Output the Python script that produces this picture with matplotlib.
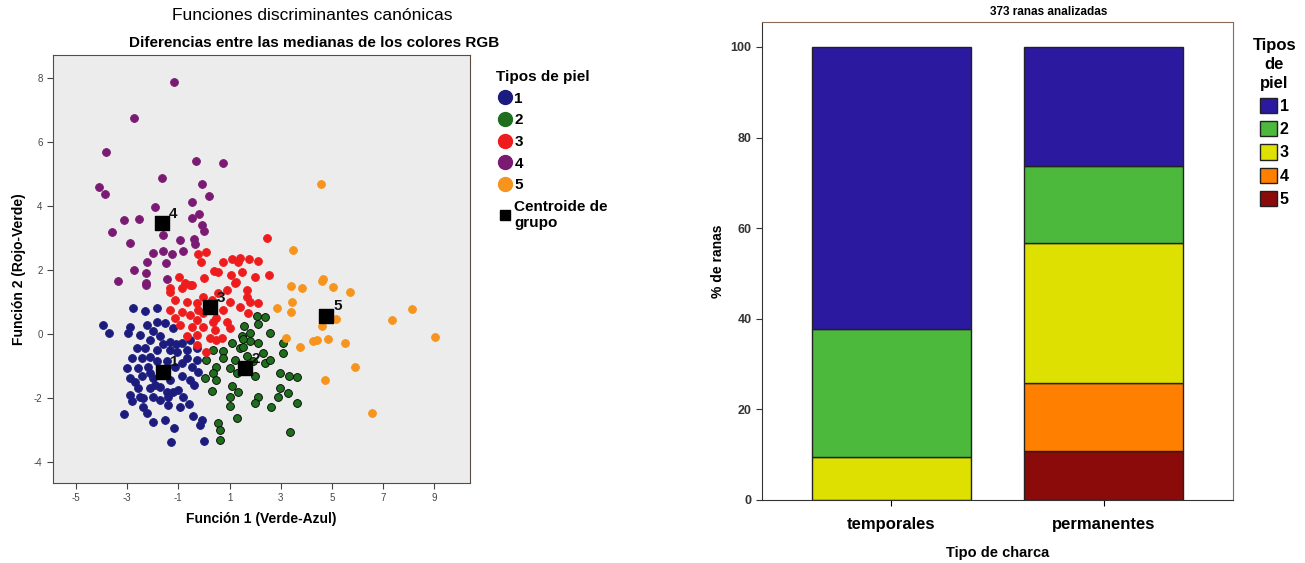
import numpy as np
import matplotlib
matplotlib.use('Agg')
from matplotlib import pyplot as plt
from matplotlib.lines import Line2D
from matplotlib.patches import Patch

plt.rcParams['font.family'] = ['Liberation Sans', 'DejaVu Sans']
plt.rcParams['axes.unicode_minus'] = False

# Puntuaciones discriminantes (Funcion 1, Funcion 2) por tipo de piel
piel1 = [(-3.96, 0.27), (-3.70, 0.04), (-2.79, 0.82), (-2.30, 0.72), (-1.85, 0.82), (-2.89, 0.23),
         (-2.96, 0.04), (-2.24, 0.28), (-1.85, 0.38), (-1.52, 0.33), (-1.20, 0.18), (-2.50, -0.03),
         (-2.11, -0.19), (-1.72, -0.08), (-1.33, -0.24), (-0.87, -0.29), (-0.55, -0.19), (-2.30, -0.45),
         (-1.85, -0.50), (-1.07, -0.55), (-0.68, -0.50), (-0.29, -0.45), (-2.83, -0.76), (-2.43, -0.76),
         (-2.11, -0.71), (-3.02, -1.07), (-2.57, -1.07), (-2.18, -1.02), (-0.87, -0.92), (-0.48, -1.02),
         (-0.22, -1.18), (-2.89, -1.38), (-2.43, -1.33), (-1.98, -1.38), (-1.33, -1.44), (-0.87, -1.33),
         (-0.55, -1.44), (-2.57, -1.70), (-2.11, -1.70), (-1.72, -1.65), (-1.00, -1.75), (-2.89, -1.91),
         (-2.50, -1.96), (-1.98, -1.96), (-1.39, -1.96), (-0.81, -1.96), (-2.83, -2.11), (-2.37, -2.27),
         (-1.39, -2.22), (-0.94, -2.27), (-3.13, -2.51), (-2.24, -2.48), (-1.98, -2.74), (-1.52, -2.69),
         (-0.42, -2.58), (-0.09, -2.69), (-0.16, -2.84), (-1.17, -2.95), (-1.30, -3.38), (0.00, -3.34),
         (-1.85, -0.84), (-1.46, -0.84), (-1.13, -1.02), (-2.11, -1.23), (-0.68, -0.76), (-0.29, -0.81),
         (-1.46, -1.80), (-1.72, -2.06), (-2.63, -0.45), (-1.33, -0.50), (-1.60, -0.30), (-1.90, -1.60),
         (-1.20, -1.80), (-2.70, -1.50), (-0.60, -2.20), (-1.10, -0.30), (-2.00, 0.10), (-0.40, -1.60),
         (-1.50, -1.20), (-2.40, -2.00)]
piel2 = [(2.06, 0.56), (2.38, 0.53), (1.58, 0.25), (2.58, 0.04), (3.10, -0.29), (3.10, -0.60),
         (1.47, -0.06), (1.80, -0.22), (2.12, -0.27), (1.08, -0.27), (0.75, -0.53), (0.36, -0.51),
         (1.41, -0.45), (2.32, -0.60), (2.38, -0.92), (0.10, -0.81), (0.49, -1.02), (1.02, -1.07),
         (0.04, -1.38), (1.99, -1.33), (2.97, -1.23), (3.33, -1.31), (3.64, -1.35), (1.08, -1.63),
         (0.30, -1.77), (1.34, -1.80), (2.97, -1.70), (3.29, -1.85), (1.02, -1.96), (2.12, -1.98),
         (1.99, -2.17), (2.64, -2.27), (3.62, -2.17), (1.02, -2.24), (1.28, -2.63), (0.56, -2.79),
         (0.63, -3.00), (0.63, -3.31), (3.36, -3.08), (1.67, -0.69), (1.93, -0.84), (0.75, -0.76),
         (1.21, -0.81), (1.54, -0.40), (1.80, 0.04), (1.54, -0.17), (2.12, 0.32), (0.36, -1.23),
         (0.49, -1.44), (2.58, -0.81), (2.90, -1.96), (1.28, -1.23)]
piel3 = [(2.45, 3.01), (2.54, 1.83), (-0.22, 2.50), (0.08, 2.57), (-0.13, 2.26), (0.75, 2.26),
         (1.08, 2.33), (1.41, 2.37), (1.77, 2.33), (2.10, 2.28), (1.35, 2.25), (0.40, 1.97),
         (0.56, 1.93), (1.04, 1.84), (1.48, 1.95), (1.98, 1.79), (1.25, 1.63), (0.00, 1.74),
         (-0.97, 1.79), (-0.74, 1.58), (-1.33, 1.43), (-0.48, 1.53), (-1.33, 1.32), (-0.87, 1.43),
         (-0.55, 1.53), (1.21, 1.58), (1.67, 1.37), (0.56, 1.27), (0.89, 1.37), (-1.13, 1.06),
         (-0.68, 1.01), (-0.29, 0.96), (-1.33, 0.75), (-0.87, 0.70), (1.02, 1.01), (1.41, 0.85),
         (1.80, 1.01), (2.12, 0.96), (0.75, 0.75), (1.73, 0.65), (-1.13, 0.49), (-0.55, 0.59),
         (-0.29, 0.44), (-0.03, 0.65), (0.49, 0.49), (0.89, 0.38), (-0.94, 0.28), (-0.03, 0.23),
         (0.43, 0.13), (1.02, 0.18), (-0.68, -0.08), (-0.29, -0.03), (0.23, -0.13), (0.69, -0.13),
         (-0.29, -0.34), (0.10, -0.55), (0.49, -0.19), (-0.48, 0.23), (-0.22, 0.75), (0.36, 0.38),
         (1.67, 1.16), (0.30, 1.06), (-0.03, 1.16)]
piel4 = [(-1.17, 7.88), (-2.72, 6.74), (-3.84, 5.68), (-0.31, 5.41), (0.74, 5.33), (-1.63, 4.88),
         (-4.09, 4.60), (-3.85, 4.37), (-0.08, 4.70), (0.21, 4.31), (-0.47, 4.13), (-1.91, 3.96),
         (-0.20, 3.75), (-0.47, 3.63), (-3.13, 3.57), (-2.55, 3.60), (-0.08, 3.41), (-0.01, 3.22),
         (-3.61, 3.18), (-1.60, 3.08), (-0.95, 2.93), (-0.38, 2.97), (-2.89, 2.85), (-0.34, 2.80),
         (-2.00, 2.52), (-1.59, 2.59), (-1.25, 2.51), (-0.83, 2.58), (-2.21, 2.24), (-1.47, 2.23),
         (-2.73, 2.00), (-2.25, 1.92), (-3.37, 1.66), (-2.28, 1.60), (-1.45, 1.73), (-2.28, 1.53)]
piel5 = [(4.56, 4.70), (3.48, 2.63), (4.66, 1.71), (3.42, 1.50), (3.84, 1.43), (4.62, 1.64),
         (5.06, 1.48), (5.70, 1.30), (3.44, 0.99), (2.84, 0.82), (3.39, 0.68), (5.18, 0.46),
         (4.60, 0.25), (8.14, 0.79), (7.36, 0.45), (9.02, -0.09), (3.22, -0.13), (3.75, -0.40),
         (4.27, -0.23), (4.86, -0.15), (5.51, -0.27), (5.91, -1.03), (4.73, -1.43), (6.56, -2.48),
         (4.40, -0.19)]

grupos = ['1', '2', '3', '4', '5']
colores_piel = ['#1c1c7e', '#1e6e1e', '#ee1c1c', '#7a1a72', '#f7941d']
centroide_x = [-1.61, 1.60, 0.23, -1.63, 4.78]
centroide_y = [-1.19, -1.07, 0.84, 3.46, 0.56]

# Porcentaje de ranas por tipo de charca (apilado de abajo arriba: 5, 4, 3, 2, 1)
charcas = ['temporales', 'permanentes']
pct_tipo1 = [62.3, 26.2]
pct_tipo2 = [28.3, 17.0]
pct_tipo3 = [9.4, 30.9]
pct_tipo4 = [0.0, 15.1]
pct_tipo5 = [0.0, 10.8]
colores_barra = ['#2b1aa0', '#4cb83c', '#dde000', '#ff7f00', '#8b0a0a']

fig = plt.figure(figsize=(13.05, 5.63), dpi=100)

# ---- panel izquierdo: funciones discriminantes ----
ax1 = fig.add_axes([53 / 1305, 1 - 483 / 563, 417 / 1305, 428 / 563])
ax1.set_facecolor('#ececec')
for datos, col in zip([piel1, piel2, piel3, piel4, piel5], colores_piel):
    arr = np.array(datos)
    edge = 'black' if col == '#1e6e1e' else col
    ax1.scatter(arr[:, 0], arr[:, 1], s=32, color=col, edgecolors=edge, linewidths=0.6, zorder=3)

ax1.scatter(centroide_x, centroide_y, marker='s', s=110, color='black', zorder=5)
for g, cx, cy in zip(grupos, centroide_x, centroide_y):
    ax1.annotate(g, (cx, cy), xytext=(5, 4), textcoords='offset points', fontsize=11,
                 fontweight='bold', color='#111111', zorder=6)

ax1.set_xlim(-5.9, 10.4)
ax1.set_ylim(-4.66, 8.72)
ax1.set_xticks([-5, -3, -1, 1, 3, 5, 7, 9])
ax1.set_yticks([-4, -2, 0, 2, 4, 6, 8])
ax1.tick_params(labelsize=7, colors='#444444', length=4)
for sp in ax1.spines.values():
    sp.set_color('#5a4a40')
ax1.set_xlabel('Función 1 (Verde-Azul)', fontsize=10, fontweight='bold', labelpad=6)
ax1.set_ylabel('Función 2 (Rojo-Verde)', fontsize=10, fontweight='bold', labelpad=6)

fig.text(312 / 1305, 1 - 16 / 563, 'Funciones discriminantes canónicas', ha='center', va='center',
         fontsize=12.5)
fig.text(314 / 1305, 1 - 43 / 563, 'Diferencias entre las medianas de los colores RGB', ha='center',
         va='center', fontsize=11, fontweight='bold')

handles1 = [Line2D([], [], marker='o', ls='none', ms=10, color=c) for c in colores_piel]
handles1.append(Line2D([], [], marker='s', ls='none', ms=7, color='black'))
leg1 = ax1.legend(handles1, grupos + ['Centroide de\ngrupo'], loc='upper left',
                  bbox_to_anchor=(490 / 1305, 1 - 64 / 563), bbox_transform=fig.transFigure,
                  frameon=False, title='Tipos de piel', alignment='left', handletextpad=0.0,
                  handlelength=1.2, labelspacing=0.5, borderaxespad=0,
                  prop={'weight': 'bold', 'size': 11},
                  title_fontproperties={'weight': 'bold', 'size': 11})

# ---- panel derecho: barras apiladas ----
ax2 = fig.add_axes([762 / 1305, 1 - 500 / 563, 471 / 1305, 478 / 563])
x = np.arange(len(charcas))
base = np.zeros(len(charcas))
for vals, col in zip([pct_tipo5, pct_tipo4, pct_tipo3, pct_tipo2, pct_tipo1], colores_barra[::-1]):
    ax2.bar(x, vals, bottom=base, width=0.75, color=col, edgecolor='#222222', linewidth=1.0)
    base = base + np.array(vals)

ax2.set_xlim(-0.61, 1.61)
ax2.set_ylim(0, 105.5)
ax2.set_yticks([0, 20, 40, 60, 80, 100])
ax2.set_xticks(x)
ax2.set_xticklabels(charcas, fontsize=12, fontweight='bold')
ax2.tick_params(axis='y', labelsize=9, length=4, colors='#333333')
ax2.tick_params(axis='x', length=4, pad=8)
for lab in ax2.get_yticklabels():
    lab.set_fontweight('bold')
for sp in ax2.spines.values():
    sp.set_color('#8a6a5a')
ax2.spines['bottom'].set_color('#333333')
ax2.spines['left'].set_color('#333333')
ax2.set_ylabel('% de ranas', fontsize=10, fontweight='bold', labelpad=4)
ax2.set_xlabel('Tipo de charca', fontsize=10.5, fontweight='bold', labelpad=10)
fig.text(1049 / 1305, 1 - 12 / 563, '373 ranas analizadas', ha='center', va='center',
         fontsize=8.5, fontweight='bold')

handles2 = [Patch(facecolor=c, edgecolor='#222222') for c in colores_barra]
leg2 = ax2.legend(handles2, grupos, loc='upper left',
                  bbox_to_anchor=(1246 / 1305, 1 - 32 / 563), bbox_transform=fig.transFigure,
                  frameon=False, title='Tipos\nde\npiel', handletextpad=0.15, handlelength=1.1,
                  handleheight=1.1, labelspacing=0.45, borderaxespad=0,
                  prop={'weight': 'bold', 'size': 11.5},
                  title_fontproperties={'weight': 'bold', 'size': 12})
leg2.get_title().set_multialignment('center')
leg2.get_title().set_linespacing(1.3)

fig.savefig('out.png', dpi=100)
